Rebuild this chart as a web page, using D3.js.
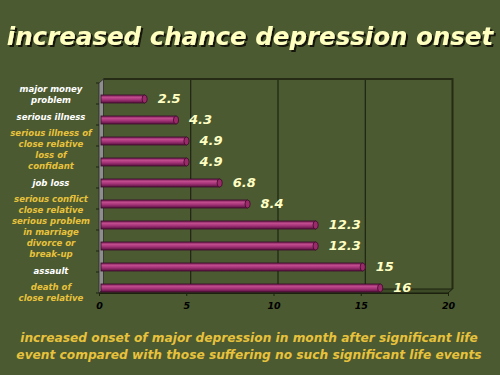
<!DOCTYPE html>
<html><head><meta charset="utf-8">
<script src="https://cdn.jsdelivr.net/npm/d3@7"></script>
<style>html,body{margin:0;padding:0;background:#4b5a31;}svg{display:block;}</style>
</head><body>
<script>
// ---- data ----
const categories = ["major money\nproblem","serious illness","serious illness of\nclose relative","loss of\nconfidant","job loss","serious conflict\nclose relative","serious problem\nin marriage","divorce or\nbreak-up","assault","death of\nclose relative"];
const values = [2.5,4.3,4.9,4.9,6.8,8.4,12.3,12.3,15,16];
const xTicks = [0,5,10,15,20];
const labelTone = ["w","w","y","y","w","y","y","y","w","y"];
const title = "increased chance depression onset";
const captionLines = ["increased onset of major depression in month after significant life","event compared with those suffering no such significant life events"];

// ---- layout ----
(function(){
const W=500,H=375;
const FONT="'DejaVu Sans', Verdana, sans-serif";
const svg=d3.select("body").append("svg").attr("width",W).attr("height",H);
svg.append("rect").attr("width",W).attr("height",H).attr("fill","#4b5a31");

const defs=svg.append("defs");
const g1=defs.append("linearGradient").attr("id","cyl").attr("x1",0).attr("y1",0).attr("x2",0).attr("y2",1);
[[0,"#7a1d56"],[0.3,"#c04c8e"],[0.55,"#a8357a"],[1,"#5a1240"]].forEach(([o,c])=>g1.append("stop").attr("offset",o).attr("stop-color",c));
const f=defs.append("filter").attr("id","shadow").attr("x","-5%").attr("y","-20%").attr("width","110%").attr("height","150%");
f.append("feDropShadow").attr("dx",2).attr("dy",2).attr("stdDeviation",0.6).attr("flood-color","#141809").attr("flood-opacity",1);

const x=d3.scaleLinear().domain([0,20]).range([99,448]);
const y=d3.scaleBand().domain(d3.range(values.length)).range([83,293]);
const yl=d3.scaleBand().domain(d3.range(values.length)).range([83.5,303.5]);
const dx=4.5, dy=-4;
const yTop=y.range()[0], yBot=y.range()[1];

// back wall gridlines
svg.append("g").selectAll("line").data(xTicks.slice(1,-1)).join("line")
  .attr("x1",d=>x(d)+dx).attr("x2",d=>x(d)+dx).attr("y1",yTop+dy).attr("y2",yBot+dy)
  .attr("stroke","#15180c").attr("stroke-width",1);
// back top and right edges
svg.append("path").attr("d",`M${x(0)+dx},${yTop+dy}H${x(20)+dx}V${yBot+dy}`)
  .attr("fill","none").attr("stroke","#262b16").attr("stroke-width",2);
// floor
svg.append("path").attr("d",`M${x(0)},${yBot}L${x(0)+dx},${yBot+dy}H${x(20)+dx}L${x(20)},${yBot}Z`)
  .attr("fill","#3d4a26").attr("stroke","#1c200f").attr("stroke-width",1);
// left grey wall
svg.append("path").attr("d",`M${x(0)},${yBot}V${yTop}L${x(0)+dx},${yTop+dy}V${yBot+dy}Z`)
  .attr("fill","#8e8e8e").attr("stroke","#2a2a2a").attr("stroke-width",0.8);

// left ticks at band boundaries
const bounds=d3.range(values.length+1).map(i=>yTop+i*y.step());
svg.append("g").selectAll("line").data(bounds).join("line")
  .attr("x1",x(0)-3).attr("x2",x(0)).attr("y1",d=>d).attr("y2",d=>d)
  .attr("stroke","#1c200f");

// x axis
const ax=svg.append("g").attr("transform",`translate(0,${yBot})`)
  .call(d3.axisBottom(x).tickValues(xTicks).tickSize(3).tickPadding(6));
ax.select(".domain").attr("stroke","#1c200f");
ax.selectAll(".tick line").attr("stroke","#1c200f");
ax.selectAll(".tick text").attr("fill","#000").attr("font-family",FONT)
  .attr("font-size",9.5).attr("font-weight","bold").attr("font-style","italic");

// bars
const bars=svg.append("g").selectAll("g").data(values).join("g");
const cy=(d,i)=>y(i)+y.bandwidth()-5;
bars.append("rect").attr("x",x(0)+2).attr("y",(d,i)=>cy(d,i)-4)
  .attr("width",d=>x(d)-x(0)).attr("height",8)
  .attr("fill","url(#cyl)").attr("stroke","#3a0c2a").attr("stroke-width",0.8);
bars.append("ellipse").attr("cx",d=>x(d)+2).attr("cy",(d,i)=>cy(d,i))
  .attr("rx",2.6).attr("ry",4).attr("fill","#9a2a6a").attr("stroke","#3a0c2a").attr("stroke-width",0.8);
bars.append("text").attr("x",d=>x(d)+15).attr("y",(d,i)=>cy(d,i)+4)
  .text(d=>d).attr("fill","#ffffc4").attr("font-family",FONT)
  .attr("font-size",13).attr("font-weight","bold").attr("font-style","italic");

// category labels
const lab=svg.append("g").selectAll("text").data(categories).join("text")
  .attr("text-anchor","middle").attr("font-family",FONT).attr("font-size",9.5)
  .attr("font-stretch","condensed")
  .attr("font-weight","bold").attr("font-style","italic")
  .attr("fill",(d,i)=>labelTone[i]==="w"?"#ffffff":"#e8c23c");
lab.each(function(d,i){
  const lines=d.split("\n");
  const c=yl(i)+yl.bandwidth()/2;
  const lh=11;
  d3.select(this).selectAll("tspan").data(lines).join("tspan")
    .attr("x",51).attr("y",(l,j)=>c+(j-(lines.length-1)/2)*lh+3.4).text(l=>l);
});

// title with shadow
svg.append("text").attr("x",250).attr("y",45).text(title)
  .attr("text-anchor","middle")
  .attr("font-family",FONT).attr("font-size",24.5).attr("font-weight","bold")
  .attr("font-style","italic").attr("fill","#ffffc0").attr("filter","url(#shadow)");

// caption
svg.append("g").selectAll("text").data(captionLines).join("text")
  .attr("x",249).attr("y",(d,i)=>342+i*16.5).text(d=>d)
  .attr("text-anchor","middle")
  .attr("font-family",FONT).attr("font-size",12.2).attr("font-weight","bold")
  .attr("font-style","italic").attr("fill","#e8c23c");
})();
</script>
</body></html>
